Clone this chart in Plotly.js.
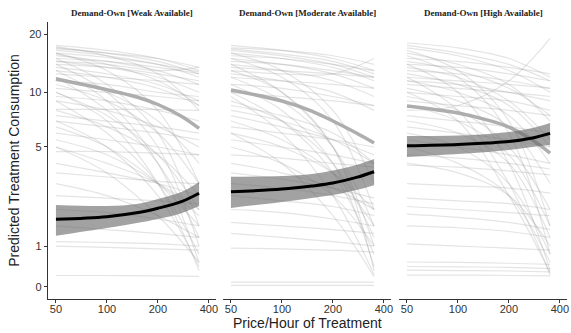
<!DOCTYPE html>
<html>
<head>
<meta charset="utf-8">
<script src="https://cdn.plot.ly/plotly-3.0.1.min.js"></script>
<style>html,body{margin:0;padding:0;background:#fff;}#chart{width:571px;height:333px;}</style>
</head>
<body>
<div id="chart"></div>
<script>
// ---------- DATA ----------
const prices = [50, 100, 200, 350];              // for individual curves
const fitPrices = [50, 100, 150, 200, 275, 350]; // for mean / fitted curves
const panelTitles = ["Demand-Own [Weak Available]", "Demand-Own [Moderate Available]", "Demand-Own [High Available]"];
const xTickVals = [50, 100, 200, 400];
const yTickVals = [0, 1, 5, 10, 20];

// individual demand curves (value at each price)
const weakLines = [
  [17.5,16.5,15,13],[17,16,14.5,12.5],[16.5,15.5,14,12],[16,15.2,14,12.8],[15.5,14.5,13,11],
  [15,14.5,13.5,12.5],[14.5,13.5,12,10],[14,13.5,12.5,11.5],[13.5,12.5,11,9],[16.8,16,15,13.5],
  [15.8,14,11.5,8.5],[17.2,15.5,12.5,8],[13,12,10.5,8.5],[12.5,12,11.5,11],[16,13,8,3],
  [15,11,6,1.5],[14,10,5,1],[12,8,4,1.2],[11,9,6,3],[10,7.5,4.5,2],[9,6,3,0.8],[13,9,4,0.6],
  [8,6.5,4.5,2.5],[8.1,8.1,8.1,8],[7,6.5,6,5.5],[6,5.5,5,4.5],[4.7,4.7,4.6,4.5],[5,4,3,2],
  [4,3.5,3,2.5],[3.5,3.3,3.1,3],[3,2.5,1.8,1.2],[6.5,5,3,1.5],[5.5,4.5,3,1.8],[7.5,7,6.5,6],
  [9.5,9,8,7],[10.5,10,9.5,9],[11.5,11,10,9.5],[2.5,2.4,2.3,2.2],[2,1.9,1.7,1.5],[1.5,1.4,1.3,1.2],
  [1.1,1.08,1.05,1.0],[1.0,0.97,0.93,0.9],[0.28,0.28,0.27,0.26],[12,10,7,4],[9,8,6.5,5],
  [7,5,2.5,0.5],[10,7,3,0.4],[5,3.5,1.8,0.6],[14.5,14,13,13.5]
];
const moderateLines = [
  [17.5,16.5,15,13],[17,16.5,15.5,14],[16.5,15.5,14,12],[16,15,13.5,11.5],[15.5,15,14,13],
  [15,14,12.5,10.5],[14.5,14,13,12],[14,13,11.5,9.5],[16.8,15.8,14.5,12.5],[13.5,13,12.5,12],
  [13,12.5,12.5,15],[12.5,11.5,10,8],[12,11.5,11,10.5],[11,10.5,9.5,8.5],[16,13,8,3],
  [15,12,7,2],[14,10,5,1],[12,9,5,1.5],[10,7,3.5,0.8],[9,7,4,1.2],[8.5,7.5,6,4],[8,7,5.5,4],
  [7.5,6.5,5.5,4.5],[7,5.5,3.5,1.5],[6.5,6,5.5,5],[6,5,3.5,2],[5.5,5,4.5,4],[5,4,2.5,1],
  [4.5,4.3,4,3.8],[4,3.5,2.8,2],[3.5,3.2,2.8,2.4],[3,2.8,2.5,2.2],[11,8,4,0.5],[13,10,5,0.4],
  [9.5,6,2.5,0.3],[6,4,1.8,0.25],[2.5,2.3,2.1,1.8],[2,1.9,1.7,1.5],[1.6,1.5,1.4,1.3],
  [1.3,1.2,1.1,1],[0.95,0.93,0.9,0.85],[0.12,0.12,0.12,0.12],[0.04,0.04,0.04,0.04],[10,9.5,9,8.5]
];
const highLines = [
  [18,17,15,12],[17,15.5,13,10],[16,14,11,7],[15,14.5,13.5,12.5],[14.5,13,10.5,7.5],
  [14,13.5,12.5,11.5],[13.5,12,9,5.5],[13,12.5,11.5,10.5],[12.5,11,8.5,5],[12,11.5,11,10.5],
  [11.5,10,7.5,4],[11,10.5,10,9.5],[10.5,9,6.5,3],[10,9.5,9,8],[9.5,8,5,2],[9,8.5,8,7.5],
  [8.5,7,4.5,1.5],[8,8.5,11.5,19],[7.5,7,6.5,6],[7,6,4,1.2],[6.5,6,5.5,5],[6,5,3,0.8],
  [5.5,5,4.5,4],[5,4,2.5,0.6],[4.5,4.3,4,3.7],[4,3.5,2.5,1],[3.9,3.8,3.6,3.4],[3,2.9,2.8,2.6],
  [2.4,2.3,2.2,2],[2.1,2,1.9,1.8],[1.85,1.75,1.6,1.4],[1.5,1.45,1.35,1.2],[1.05,1.0,0.95,0.9],
  [0.61,0.6,0.58,0.55],[0.5,0.49,0.48,0.45],[0.41,0.4,0.39,0.37],[0.29,0.29,0.28,0.27],
  [16.5,13,7,1.5],[15.5,12,6,0.8],[14,10,4,0.4],[12,8,3,0.3],[10,7,2.5,0.35],
  [17.5,16,14,11.5],[11.5,11,10,9]
];

// mean of individual curves (thick grey), at fitPrices
const weakMean = [11.75, 10.33, 9.44, 8.61, 7.44, 6.37];
const moderateMean = [10.28, 8.99, 7.94, 7.0, 6.0, 5.27];
const highMean = [8.45, 7.74, 7.08, 6.48, 5.48, 4.61];

// population fit (black) with confidence band, at fitPrices
const weakFit = [1.69, 1.77, 1.89, 2.04, 2.27, 2.59];
const weakUpper = [2.15, 2.12, 2.19, 2.37, 2.64, 3.07];
const weakLower = [1.24, 1.44, 1.58, 1.70, 1.88, 2.12];
const moderateFit = [2.65, 2.76, 2.89, 3.02, 3.28, 3.56];
const moderateUpper = [3.31, 3.35, 3.45, 3.62, 3.91, 4.25];
const moderateLower = [2.05, 2.26, 2.41, 2.52, 2.72, 2.93];
const highFit = [5.08, 5.17, 5.27, 5.37, 5.63, 5.98];
const highUpper = [5.77, 5.81, 5.93, 6.08, 6.40, 6.83];
const highLower = [4.37, 4.55, 4.67, 4.80, 5.00, 5.13];

// ---------- SCALE (compressed log scale of the original axis) ----------
function tr(v) { return v >= 1 ? Math.log10(v + 1) : 0.104 + 0.197 * v; }
const T = arr => arr.map(tr);

const panels = [
  {lines: weakLines, mean: weakMean, fit: weakFit, up: weakUpper, lo: weakLower},
  {lines: moderateLines, mean: moderateMean, fit: moderateFit, up: moderateUpper, lo: moderateLower},
  {lines: highLines, mean: highMean, fit: highFit, up: highUpper, lo: highLower}
];

const traces = [];
panels.forEach((p, i) => {
  const xa = i === 0 ? 'x' : 'x' + (i + 1);
  p.lines.forEach(l => traces.push({
    x: prices, y: T(l), xaxis: xa, yaxis: 'y', type: 'scatter', mode: 'lines',
    line: {color: 'rgba(150,150,150,0.26)', width: 1.2, shape: 'spline'}, hoverinfo: 'skip', showlegend: false
  }));
  traces.push({x: fitPrices, y: T(p.mean), xaxis: xa, yaxis: 'y', type: 'scatter', mode: 'lines',
    line: {color: 'rgba(165,165,165,0.9)', width: 3.5, shape: 'spline'}, showlegend: false});
  traces.push({x: fitPrices, y: T(p.lo), xaxis: xa, yaxis: 'y', type: 'scatter', mode: 'lines',
    line: {color: 'rgba(0,0,0,0)', width: 0, shape: 'spline'}, showlegend: false});
  traces.push({x: fitPrices, y: T(p.up), xaxis: xa, yaxis: 'y', type: 'scatter', mode: 'lines',
    fill: 'tonexty', fillcolor: 'rgba(105,105,105,0.62)',
    line: {color: 'rgba(0,0,0,0)', width: 0, shape: 'spline'}, showlegend: false});
  traces.push({x: fitPrices, y: T(p.fit), xaxis: xa, yaxis: 'y', type: 'scatter', mode: 'lines',
    line: {color: '#000', width: 3, shape: 'spline'}, showlegend: false});
});

const W = 519;
const doms = [[0, 168 / W], [175 / W, 343 / W], [351 / W, 1]];
const axFont = {family: 'Liberation Sans, Arial, sans-serif', size: 11, color: '#333'};
const xBase = {
  type: 'log', range: [1.652, 2.644], tickvals: xTickVals, ticktext: xTickVals.map(String),
  ticks: 'outside', ticklen: 3, tickwidth: 1, tickcolor: '#333', showline: true, linecolor: '#333', linewidth: 1.3,
  showgrid: false, zeroline: false, tickfont: axFont, ticklabelstandoff: -4, anchor: 'y', fixedrange: true
};
const layout = {
  width: 571, height: 333,
  margin: {l: 48, r: 4, t: 22, b: 34},
  paper_bgcolor: '#fff', plot_bgcolor: '#fff', showlegend: false,
  xaxis: Object.assign({}, xBase, {domain: doms[0]}),
  xaxis2: Object.assign({}, xBase, {domain: doms[1]}),
  xaxis3: Object.assign({}, xBase, {domain: doms[2]}),
  yaxis: {
    domain: [0, 1], range: [0.046, 1.380], anchor: 'x',
    tickvals: T(yTickVals), ticktext: yTickVals.map(String),
    ticks: 'outside', ticklen: 3, tickwidth: 1, tickcolor: '#333', showline: true, linecolor: '#333', linewidth: 1.3,
    showgrid: false, zeroline: false, tickfont: axFont,
    title: {text: 'Predicted Treatment Consumption', font: {family: 'Liberation Sans, Arial, sans-serif', size: 14, color: '#222'}, standoff: 6},
    fixedrange: true
  },
  annotations: panelTitles.map((t, i) => ({
    text: '<b>' + t + '</b>', xref: 'paper', yref: 'paper',
    x: (doms[i][0] + doms[i][1]) / 2, y: 1 + 9 / 277, xanchor: 'center', yanchor: 'middle',
    showarrow: false, font: {family: 'Liberation Serif, Times New Roman, serif', size: 9, color: '#222'}
  })).concat([{
    text: 'Price/Hour of Treatment', xref: 'paper', yref: 'paper',
    x: (doms[1][0] + doms[1][1]) / 2, y: -24 / 277, xanchor: 'center', yanchor: 'middle',
    showarrow: false, font: {family: 'Liberation Sans, Arial, sans-serif', size: 14, color: '#222'}
  }])
};
Plotly.newPlot('chart', traces, layout, {displayModeBar: false, staticPlot: true});
</script>
</body>
</html>
